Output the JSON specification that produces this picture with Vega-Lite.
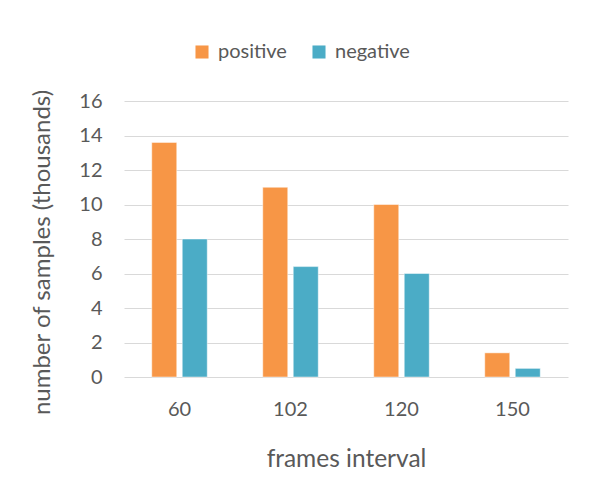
{
  "$schema": "https://vega.github.io/schema/vega-lite/v6.json",
  "autosize": "none",
  "width": 444,
  "height": 276,
  "padding": {"left": 124, "top": 101, "right": 25, "bottom": 112},
  "background": "white",
  "data": {
    "values": [
      {"interval": "60", "type": "positive", "samples": 13.6},
      {"interval": "60", "type": "negative", "samples": 8.0},
      {"interval": "102", "type": "positive", "samples": 11.0},
      {"interval": "102", "type": "negative", "samples": 6.4},
      {"interval": "120", "type": "positive", "samples": 10.0},
      {"interval": "120", "type": "negative", "samples": 6.0},
      {"interval": "150", "type": "positive", "samples": 1.4},
      {"interval": "150", "type": "negative", "samples": 0.5}
    ]
  },
  "config": {
    "font": "Lato",
    "view": {"stroke": null},
    "axis": {"labelColor": "#595959", "titleColor": "#595959", "labelFont": "Lato", "titleFont": "Lato", "titleFontWeight": "normal"},
    "legend": {"labelColor": "#595959", "labelFont": "Lato"}
  },
  "mark": {"type": "bar", "stroke": "#ffffff", "strokeWidth": 0.8, "strokeOpacity": 0.6},
  "encoding": {
    "x": {
      "field": "interval",
      "type": "nominal",
      "sort": ["60", "102", "120", "150"],
      "scale": {"paddingInner": 0.5, "paddingOuter": 0.25},
      "axis": {
        "labelAngle": 0,
        "domain": false,
        "ticks": false,
        "labelFontSize": 20,
        "labelPadding": 22,
        "title": "frames interval",
        "titleFontSize": 24.5,
        "titlePadding": 28
      }
    },
    "xOffset": {
      "field": "type",
      "type": "nominal",
      "sort": ["positive", "negative"],
      "scale": {"paddingInner": 0.18, "paddingOuter": 0}
    },
    "y": {
      "field": "samples",
      "type": "quantitative",
      "scale": {"domain": [0, 16], "nice": false},
      "axis": {
        "values": [0, 2, 4, 6, 8, 10, 12, 14, 16],
        "domain": false,
        "ticks": false,
        "grid": true,
        "gridColor": "#D9D9D9",
        "gridWidth": 1.2,
        "labelFontSize": 20,
        "labelPadding": 22,
        "title": "number of samples (thousands)",
        "titleFontSize": 24,
        "titlePadding": 24,
        "titleY": 151
      }
    },
    "color": {
      "field": "type",
      "type": "nominal",
      "sort": ["positive", "negative"],
      "scale": {"domain": ["positive", "negative"], "range": ["#F79646", "#4BACC6"]},
      "legend": {
        "title": null,
        "orient": "none",
        "direction": "horizontal",
        "legendX": 68,
        "legendY": -59,
        "symbolType": "square",
        "symbolSize": 170,
        "symbolStrokeWidth": 0,
        "symbolOpacity": 1,
        "labelFontSize": 20,
        "labelOffset": 6,
        "columnPadding": 22
      }
    }
  }
}
